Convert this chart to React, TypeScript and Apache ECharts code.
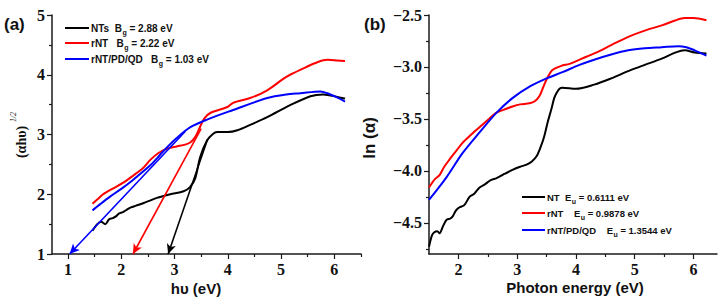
import React, { useEffect, useRef } from "react";
import * as echarts from "echarts";

// ---------- Data (panel a): (αhυ)^1/2 vs hυ ----------
const ntA: number[][] = [
  [1.46, 1.39], [1.55, 1.5], [1.62, 1.54], [1.7, 1.5], [1.77, 1.58], [1.84, 1.6], [1.9, 1.63],
  [1.96, 1.68], [2.03, 1.7], [2.1, 1.74], [2.18, 1.78], [2.28, 1.81], [2.41, 1.85], [2.67, 1.94],
  [2.92, 2.0], [3.17, 2.05], [3.29, 2.12], [3.39, 2.27], [3.48, 2.62], [3.61, 2.9], [3.72, 3.01],
  [3.8, 3.04], [4.0, 3.04], [4.18, 3.07], [4.42, 3.16], [4.74, 3.29], [5.17, 3.49], [5.55, 3.64],
  [5.79, 3.67], [6.06, 3.63], [6.2, 3.6],
];
const rntA: number[][] = [
  [1.46, 1.84], [1.56, 1.92], [1.66, 2.0], [1.85, 2.1], [2.03, 2.19], [2.22, 2.31], [2.41, 2.44],
  [2.55, 2.58], [2.7, 2.69], [2.85, 2.76], [3.04, 2.8], [3.2, 2.83], [3.3, 2.87], [3.39, 2.96],
  [3.48, 3.13], [3.56, 3.27], [3.67, 3.36], [3.99, 3.46], [4.1, 3.53], [4.42, 3.61], [4.74, 3.74],
  [5.04, 3.93], [5.17, 4.0], [5.45, 4.12], [5.68, 4.21], [5.87, 4.25], [6.05, 4.24], [6.2, 4.23],
];
const qdA: number[][] = [
  [1.46, 1.73], [1.6, 1.83], [1.79, 1.96], [2.0, 2.09], [2.22, 2.24], [2.54, 2.48], [2.67, 2.6],
  [2.79, 2.72], [3.04, 2.94], [3.29, 3.12], [3.61, 3.25], [4.1, 3.41], [4.74, 3.61], [5.1, 3.67],
  [5.36, 3.69], [5.74, 3.72], [5.87, 3.69], [6.05, 3.62], [6.2, 3.55],
];
// tangent lines (arrow end first)
const ntTangent: number[][] = [[2.88, 1], [3.62, 2.92]];
const rntTangent: number[][] = [[2.22, 1], [3.5, 3.1]];
const qdTangent: number[][] = [[1.03, 1], [3.2, 3.05]];

// ---------- Data (panel b): ln(α) vs photon energy ----------
const ntB: number[][] = [
  [1.5, -4.73], [1.55, -4.62], [1.59, -4.59], [1.64, -4.58], [1.68, -4.6], [1.74, -4.53], [1.8, -4.47],
  [1.86, -4.46], [1.9, -4.44], [1.96, -4.38], [2.02, -4.35], [2.1, -4.33], [2.19, -4.25], [2.27, -4.22],
  [2.36, -4.16], [2.45, -4.13], [2.55, -4.09], [2.65, -4.07], [2.78, -4.03], [2.92, -3.99], [3.05, -3.96],
  [3.16, -3.94], [3.25, -3.91], [3.33, -3.86], [3.4, -3.77], [3.46, -3.67], [3.52, -3.53], [3.58, -3.41],
  [3.63, -3.3], [3.67, -3.25], [3.72, -3.21], [3.77, -3.2], [4.0, -3.21], [4.31, -3.17], [4.6, -3.11],
  [4.89, -3.04], [5.17, -2.98], [5.46, -2.92], [5.7, -2.86], [5.85, -2.84], [6.02, -2.86], [6.22, -2.87],
];
const rntB: number[][] = [
  [1.5, -4.16], [1.6, -4.08], [1.68, -4.04], [1.76, -3.96], [1.85, -3.89], [1.96, -3.81], [2.07, -3.73],
  [2.2, -3.66], [2.36, -3.58], [2.5, -3.51], [2.65, -3.44], [2.78, -3.41], [2.92, -3.38], [3.05, -3.36],
  [3.21, -3.35], [3.3, -3.33], [3.38, -3.28], [3.44, -3.2], [3.5, -3.12], [3.6, -3.03], [3.75, -2.99],
  [3.89, -2.97], [4.1, -2.92], [4.31, -2.87], [4.6, -2.79], [4.89, -2.71], [5.17, -2.65], [5.46, -2.6],
  [5.7, -2.55], [5.85, -2.53], [6.0, -2.53], [6.22, -2.55],
];
const qdB: number[][] = [
  [1.5, -4.28], [1.8, -4.06], [2.07, -3.83], [2.36, -3.63], [2.65, -3.44], [2.92, -3.3], [3.21, -3.19],
  [3.5, -3.11], [3.77, -3.05], [4.06, -2.98], [4.31, -2.93], [4.6, -2.88], [4.89, -2.84], [5.17, -2.82],
  [5.46, -2.81], [5.74, -2.8], [5.88, -2.81], [6.02, -2.84], [6.22, -2.89],
];

// ---------- Ticks ----------
const xTicksA = [1, 2, 3, 4, 5, 6];
const xMinorA = [1.5, 2.5, 3.5, 4.5, 5.5, 6.5];
const yTicksA = [1, 2, 3, 4, 5];
const yMinorA = [1.5, 2.5, 3.5, 4.5];
const xTicksB = [2, 3, 4, 5, 6];
const xMinorB = [2.5, 3.5, 4.5, 5.5];
const yTicksB = [-4.5, -4.0, -3.5, -3.0, -2.5];
const yMinorB = [-4.75, -4.25, -3.75, -3.25, -2.75];

const legendA = [
  { pre: "NTs  B", sub: "g", post: " = 2.88 eV", color: "#000000" },
  { pre: "rNT   B", sub: "g", post: " = 2.22 eV", color: "#ff0000" },
  { pre: "rNT/PD/QD   B", sub: "g", post: " = 1.03 eV", color: "#0000ff" },
];
const legendB = [
  { pre: "NT  E", sub: "u", post: " = 0.6111 eV", color: "#000000" },
  { pre: "rNT    E", sub: "u", post: " = 0.9878 eV", color: "#ff0000" },
  { pre: "rNT/PD/QD    E", sub: "u", post: " = 1.3544 eV", color: "#0000ff" },
];

const SERIF = "Liberation Serif";
const SANS = "Liberation Sans";

const axisLine = { show: true, lineStyle: { color: "#1a1a1a", width: 1.5 } };
const tickLabel = { color: "#111", fontFamily: SERIF, fontWeight: "bold", fontSize: 16 };

function majorX(grid: number, min: number, max: number, ticks: number[]) {
  return {
    type: "value", gridIndex: grid, min, max, position: "bottom",
    axisLine,
    axisTick: { show: true, inside: false, length: 5, customValues: ticks, lineStyle: { color: "#1a1a1a", width: 1.2 } },
    axisLabel: { ...tickLabel, margin: 7, customValues: ticks, formatter: (v: number) => String(v) },
    splitLine: { show: false },
  };
}
function minorX(grid: number, min: number, max: number, ticks: number[]) {
  return {
    type: "value", gridIndex: grid, min, max, position: "bottom",
    axisLine: { show: false },
    axisTick: { show: true, inside: false, length: 3, customValues: ticks, lineStyle: { color: "#1a1a1a", width: 1.2 } },
    axisLabel: { show: false },
    splitLine: { show: false },
  };
}
function majorY(grid: number, min: number, max: number, ticks: number[], fmt: (v: number) => string) {
  return {
    type: "value", gridIndex: grid, min, max, position: "left",
    axisLine,
    axisTick: { show: true, inside: false, length: 5, customValues: ticks, lineStyle: { color: "#1a1a1a", width: 1.2 } },
    axisLabel: { ...tickLabel, margin: 7, customValues: ticks, formatter: fmt },
    splitLine: { show: false },
  };
}
function minorY(grid: number, min: number, max: number, ticks: number[]) {
  return {
    type: "value", gridIndex: grid, min, max, position: "left", offset: 0,
    axisLine: { show: false },
    axisTick: { show: true, inside: false, length: 3, customValues: ticks, lineStyle: { color: "#1a1a1a", width: 1.2 } },
    axisLabel: { show: false },
    splitLine: { show: false },
  };
}

function curve(name: string, data: number[][], color: string, xi: number, yi: number, tangent?: number[][]) {
  const s: any = {
    name, type: "line", xAxisIndex: xi, yAxisIndex: yi, data,
    smooth: 0.3, showSymbol: false, symbol: "none",
    lineStyle: { color, width: 2 }, silent: true, z: 3,
  };
  if (tangent) {
    s.markLine = {
      silent: true, animation: false,
      symbol: ["arrow", "none"], symbolSize: [7, 10],
      label: { show: false },
      lineStyle: { color, width: 1.6, type: "solid" },
      emphasis: { disabled: true },
      data: [[{ coord: tangent[0] }, { coord: tangent[1] }]],
    };
  }
  return s;
}

let measureCtx: CanvasRenderingContext2D | null = null;
function textWidth(text: string, font: string): number {
  if (!measureCtx) measureCtx = document.createElement("canvas").getContext("2d");
  if (!measureCtx) return text.length * 6;
  measureCtx.font = font;
  return measureCtx.measureText(text).width;
}

function txt(x: number, y: number, text: string, size: number, extra: any = {}) {
  return {
    type: "text", silent: true, x, y,
    style: {
      text, fontFamily: SANS, fontWeight: "bold", fontSize: size, fill: "#111",
      textAlign: "left", align: "left", textVerticalAlign: "middle", verticalAlign: "middle",
      ...extra,
    },
  };
}

function legendGraphics(items: typeof legendA, x1: number, x2: number, ys: number[], fontSize: number) {
  const out: any[] = [];
  const subSize = Math.round(fontSize * 0.7);
  const mainFont = `bold ${fontSize}px "${SANS}"`;
  const subFont = `bold ${subSize}px "${SANS}"`;
  items.forEach((it, i) => {
    const y = ys[i];
    out.push({
      type: "line", silent: true,
      shape: { x1, y1: y, x2, y2: y },
      style: { stroke: it.color, lineWidth: 2 },
    });
    const x0 = x2 + 2;
    const w1 = textWidth(it.pre, mainFont);
    const w2 = textWidth(it.sub, subFont);
    out.push(txt(x0, y, it.pre, fontSize));
    out.push(txt(x0 + w1 + 0.5, y + 4, it.sub, subSize));
    out.push(txt(x0 + w1 + w2 + 0.5, y, it.post, fontSize));
  });
  return out;
}

export default function App() {
  const ref = useRef<HTMLDivElement>(null);
  useEffect(() => {
    if (!ref.current) return;
    const chart = echarts.init(ref.current, undefined, { renderer: "svg" });
    const fmtB = (v: number) => v.toFixed(1).replace("-", "\u2212");
    const center = { textAlign: "center", align: "center" };
    const option: any = {
      animation: false,
      backgroundColor: "#ffffff",
      grid: [
        { left: 52, top: 15, width: 309, height: 239 },
        { left: 429, top: 15, width: 288, height: 239 },
      ],
      xAxis: [
        majorX(0, 0.7, 6.5, xTicksA),
        minorX(0, 0.7, 6.5, xMinorA),
        majorX(1, 1.5, 6.4, xTicksB),
        minorX(1, 1.5, 6.4, xMinorB),
      ],
      yAxis: [
        majorY(0, 1, 5, yTicksA, (v: number) => String(v)),
        minorY(0, 1, 5, yMinorA),
        majorY(1, -4.8, -2.5, yTicksB, fmtB),
        minorY(1, -4.8, -2.5, yMinorB),
      ],
      series: [
        curve("NTs", ntA, "#000000", 0, 0, ntTangent),
        curve("rNT", rntA, "#ff0000", 0, 0, rntTangent),
        curve("rNT/PD/QD", qdA, "#0000ff", 0, 0, qdTangent),
        curve("NT", ntB, "#000000", 2, 2),
        curve("rNT b", rntB, "#ff0000", 2, 2),
        curve("rNT/PD/QD b", qdB, "#0000ff", 2, 2),
      ],
      graphic: [
        txt(4, 24, "(a)", 17),
        txt(364, 24, "(b)", 17),
        txt(196, 288, "h\u03c5 (eV)", 15, center),
        txt(575, 287, "Photon energy (eV)", 15, center),
        { ...txt(369, 138, "ln (\u03b1)", 17, center), rotation: Math.PI / 2 },
        { ...txt(21, 142, "(\u03b1h\u03c5)", 14, { ...center, fontFamily: SERIF }), rotation: Math.PI / 2 },
        { ...txt(13, 117, "1/2", 8, { ...center, fontFamily: SERIF, fontWeight: "normal", fontStyle: "italic" }), rotation: Math.PI / 2 },
        ...legendGraphics(legendA, 65, 89, [28, 43, 59], 10),
        ...legendGraphics(legendB, 522, 545, [197, 213, 230], 9.5),
      ],
    };
    chart.setOption(option);
    return () => chart.dispose();
  }, []);
  return (
    <div
      ref={ref}
      style={{ position: "fixed", left: 0, top: 0, width: 722, height: 302, background: "#fff" }}
    />
  );
}
